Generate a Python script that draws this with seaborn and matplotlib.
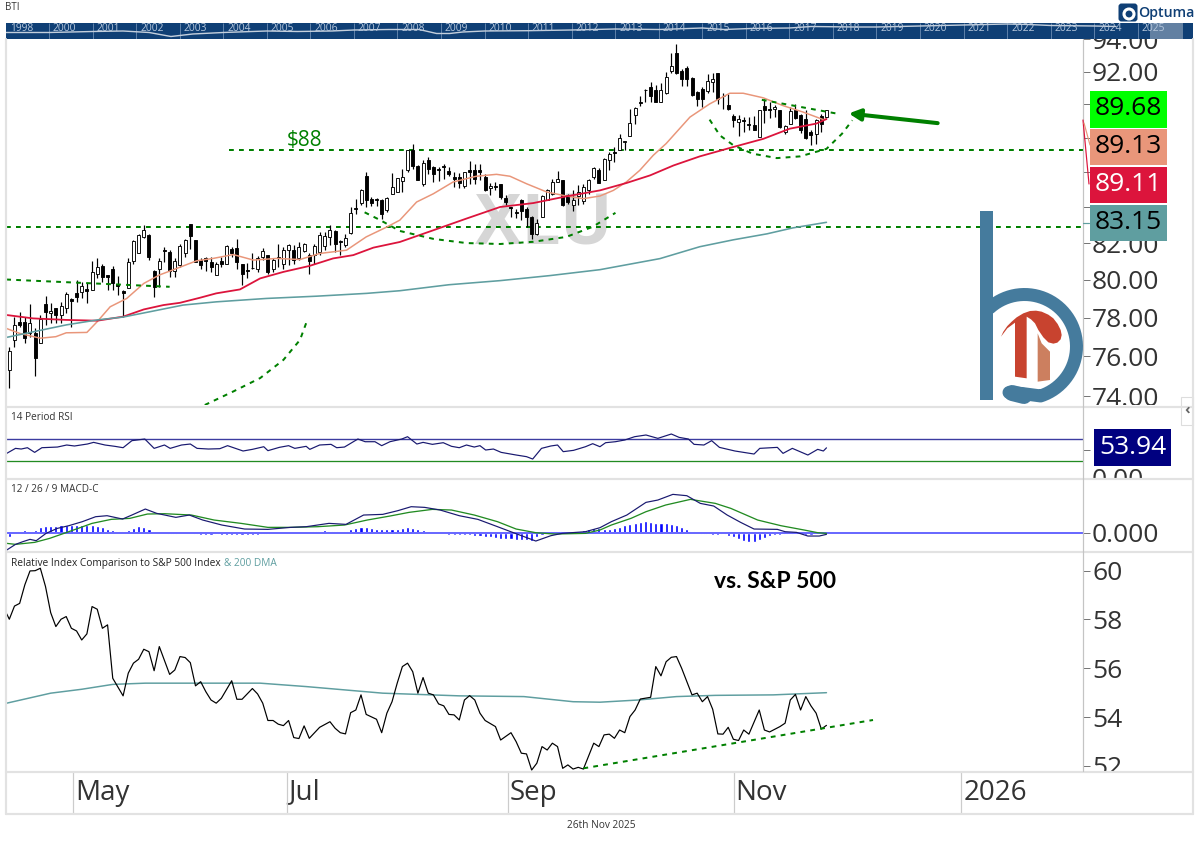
import numpy as np
import matplotlib
matplotlib.use("Agg")
import matplotlib.pyplot as plt
from matplotlib.patches import Rectangle, Polygon, FancyBboxPatch, Circle
from matplotlib.ticker import FixedLocator, NullLocator, FuncFormatter
from matplotlib.transforms import Bbox, ScaledTranslation
import seaborn as sns

# ---------- price candles ----------
price_open = [75.31,76.84,77.79,77.79,77.18,77.18,76.67,78.71,78.22,78.48,
78.14,78.48,78.96,79.31,79.36,79.49,79.45,80.31,80.74,80.24,
80.56,79.76,79.42,79.54,81.03,81.43,82.34,82.43,80.49,80.58,
81.61,81.52,80.49,80.79,81.46,83.08,82.16,81.10,81.21,80.97,
80.26,81.03,80.88,81.70,81.75,80.84,80.52,80.66,80.56,81.25,
81.34,80.56,81.25,80.88,81.61,81.61,81.16,81.57,81.37,81.34,
81.52,81.83,82.34,82.67,82.12,81.88,82.56,83.97,84.23,85.77,
84.44,84.44,84.42,83.86,84.76,84.86,
85.49,86.13,87.30,86.38,85.29,86.72,86.32,86.19,86.38,86.05,
85.72,85.72,85.18,86.13,86.13,86.10,85.72,85.10,85.18,85.29,
84.53,84.01,83.73,84.38,83.92,83.45,82.49,83.45,84.42,84.76,
85.43,85.52,84.67,84.10,84.61,84.34,84.95,85.72,86.10,85.52,
86.72,87.16,87.30,87.74,88.12,89.33,90.14,90.88,91.08,90.84,
90.16,90.67,92.06,93.14,92.06,92.20,91.61,90.74,90.94,90.78,
91.35,91.90,90.53,89.98,89.27,88.96,89.08,88.84,88.74,88.04,
89.92,89.73,89.73,89.63,88.34,88.84,89.63,89.33,89.13,88.34,
88.22,89.27,89.23]
price_high = [76.50,78.05,78.31,78.05,78.71,77.44,78.14,79.13,78.75,78.48,
78.83,79.36,79.01,80.02,79.90,79.81,81.03,81.16,80.88,80.26,
80.74,80.20,79.45,81.16,82.16,82.52,82.99,82.52,80.52,81.16,
81.79,81.61,81.16,81.97,82.25,83.08,82.19,81.21,81.25,81.25,
80.97,81.25,81.88,81.79,82.21,80.88,80.92,81.43,81.28,81.75,
81.34,81.16,81.94,81.79,81.97,81.88,82.06,82.01,81.43,81.97,
82.61,82.61,82.99,82.71,82.16,82.52,84.01,84.47,85.04,86.00,
84.57,84.53,84.47,84.57,85.94,85.67,
86.19,87.30,87.66,86.42,86.68,86.87,86.38,86.28,86.44,86.32,
86.00,85.95,86.00,86.64,86.48,86.44,85.91,85.37,85.43,85.33,
84.67,84.01,83.92,84.48,84.01,83.49,83.36,84.67,85.05,85.62,
86.05,85.52,84.76,84.95,85.24,85.29,85.62,86.32,86.25,86.83,
87.16,87.45,88.20,87.84,89.70,89.83,90.53,90.94,91.35,91.20,
91.29,91.96,93.14,93.72,92.16,92.37,91.65,90.80,91.04,91.82,
91.90,91.90,90.67,90.63,89.43,89.33,89.23,89.23,89.27,89.67,
90.33,90.12,89.98,89.67,88.74,89.83,90.02,89.39,89.67,88.44,
89.13,89.39,89.67]
price_low = [74.39,76.50,77.53,76.67,77.01,74.98,76.67,77.62,77.70,77.70,
77.70,78.22,77.53,78.83,79.01,78.75,79.45,80.08,79.90,79.45,
79.45,79.19,78.05,79.54,80.88,81.43,82.30,81.07,79.10,79.63,
80.97,80.17,80.17,80.70,81.25,81.70,80.97,80.61,80.49,80.43,
80.26,80.70,80.84,81.25,80.56,79.72,80.08,80.61,80.43,81.07,
80.34,80.43,80.70,80.61,80.79,80.88,81.10,81.52,80.34,80.88,
81.34,81.61,81.88,81.52,81.34,81.79,82.52,83.64,84.10,84.01,
84.05,84.05,83.36,83.73,84.72,84.86,
84.86,86.00,86.19,85.52,85.18,85.91,85.43,85.49,85.62,85.76,
85.14,85.10,85.10,85.33,85.29,85.52,84.91,84.67,84.99,84.48,
84.10,83.45,83.38,83.27,82.90,82.24,82.43,83.45,84.38,84.67,
85.43,84.05,84.20,83.79,84.10,84.20,84.76,85.62,85.37,85.52,
86.13,86.58,87.26,87.30,88.08,88.80,89.92,90.12,90.12,90.12,
90.16,90.63,91.90,91.86,91.14,91.14,90.53,89.92,89.83,90.67,
90.74,90.02,89.73,89.67,88.64,88.08,88.34,88.44,88.44,88.04,
88.88,89.19,89.23,88.60,88.20,88.80,89.13,88.28,87.94,87.56,
87.66,88.34,89.19]
price_close = [76.25,77.62,77.62,76.93,77.70,75.90,77.91,78.31,78.36,78.14,
78.61,79.23,78.89,79.10,79.67,79.42,80.43,80.70,80.17,80.17,
79.81,79.67,79.28,80.94,82.12,82.47,82.71,81.25,79.63,81.01,
81.57,80.49,81.03,81.83,82.16,82.37,80.97,80.79,81.03,80.70,
80.88,80.88,81.83,81.43,80.97,80.31,80.49,80.63,81.21,81.57,
80.43,81.10,81.21,81.61,81.88,81.10,81.79,81.94,81.03,81.83,
82.47,82.37,82.75,81.97,82.08,82.30,83.67,83.92,84.98,84.38,
84.25,84.38,83.64,84.53,85.14,85.64,
85.72,87.26,86.38,85.56,86.52,86.19,85.91,86.13,86.32,85.87,
85.62,85.37,86.00,86.00,85.62,86.00,84.99,85.22,85.14,84.57,
84.29,83.97,83.67,83.79,83.42,82.52,83.12,84.61,84.95,85.43,
85.62,84.10,84.29,84.38,84.86,85.14,85.56,86.21,85.37,86.77,
87.02,87.10,88.00,87.84,88.88,89.79,90.10,90.84,90.53,90.16,
90.88,91.65,92.37,91.90,91.55,91.55,90.59,90.33,90.33,91.39,
91.55,90.33,90.49,89.71,89.04,89.12,89.00,88.78,88.48,89.63,
89.63,89.63,89.86,88.64,88.70,89.57,89.19,88.48,88.00,88.14,
89.08,88.84,89.63]

# ---------- moving averages ----------
salmon_x = [-0.6,2,6,9,11,15,17,19.5,22.7,26,29,32.3,36.2,39.4,43.3,47.2,51.7,56.2,60,65.2,69,73,75.5,
            78.75,82,85.8,90.3,94.2,96.8,100,103.9,107.7,111,114.2,116.8,119.3,121.9,124.5,127,131.6,135.4,139.3,141.9,145.8,149.6,153.5,157.4,158]
salmon_y = [77.44,77.18,76.93,77.01,77.21,77.23,77.79,78.57,79.01,79.81,80.26,80.61,81.03,81.16,81.37,81.07,81.16,81.10,81.43,81.61,82.34,82.89,83.27,
            84.29,84.76,85.43,85.76,85.87,85.76,85.33,84.86,84.63,84.48,84.63,84.95,85.43,86.10,86.97,87.66,89.23,90.02,90.67,90.67,90.39,89.92,89.53,89.08,89.13]
crimson_x = [-0.6,4.6,11,17,22,26,29.8,33,36.9,40,44.6,48.5,53,58,62.6,66.5,70.4,75.5,
             82,88.4,94.9,101.3,107.7,114.2,119.3,123.9,128.4,133.5,140,145.8,150.9,156,158]
crimson_y = [78.14,77.96,77.88,77.84,78.05,78.43,78.66,78.78,79.05,79.28,79.49,80.08,80.43,80.75,81.16,81.34,81.75,82.06,
             82.71,83.36,84.01,84.23,84.61,84.95,85.37,85.81,86.38,86.91,87.46,87.94,88.54,88.84,89.11]
teal_x = [-0.6,4.6,11,17,22,27.2,33.6,40,49.7,59.4,69.1,75.5,85,94.9,104.5,114.2,125.8,133.5,140,146.5,151.5,158]
teal_y = [76.97,77.26,77.62,77.88,78.03,78.31,78.66,78.83,79.01,79.13,79.28,79.42,79.74,79.96,80.23,80.55,81.15,81.80,82.18,82.51,82.84,83.15]

# ---------- hand-drawn dotted annotations ----------
level_88 = 87.28
level_83 = 82.87
drift_x, drift_y = [-0.6, 31], [80.02, 79.63]
arc_a_x = [37.8,43.3,48.5,53,56.2,57.5]
arc_a_y = [73.56,74.23,74.90,75.82,76.84,77.79]
cup_a_x = [68.7,71.6,75.5,82,88.4,94.9,101.3,107.7,112.8,117.2]
cup_a_y = [83.71,83.29,82.67,82.23,82.0,81.95,82.07,82.34,82.9,83.68]
cup_b_x = [135.4,137.4,140,143.7,148.4,152.9,158,161,163]
cup_b_y = [89.08,88.14,87.56,87.07,86.81,86.91,87.35,88.24,89.04]
wedge_x, wedge_y = [145.5, 160.2], [90.27, 89.43]

# ---------- RSI ----------
rsi_x = [-0.5,1.2,2.3,3.5,4.9,6.3,9.3,11.1,12.6,15.1,16.3,18.5,20.4,22,23.7,26.2,28,30,31.1,33.3,35,36.3,38.5,40.7,42.2,45.2,47,49.2,50,52.2,54,55.2,57.4,58.1,60,62.2,63.3,64.8,67.4,68.8,70.7,72,73.6,75.9,77,78.8,80,81.8,83.9,85.5,87,88.4,89.9,91,92.1,93.6,95.1,98,100,101.2,102.9,104.7,106,107.1,109.1,111.4,112.8,114.2,
         115.3,117.2,119,120.9,123.1,125.4,128,129.5,131.3,132.4,134.3,135.8,137.3,140.3,144,145.1,148.5,149.6,151.4,154.4,156.3,157.4,158]
rsi_y = [43.9,53.0,51.8,54.2,45.7,54.2,55.4,59.1,57.3,60.9,63.9,59.1,56.7,54.2,67.0,70.0,53.0,59.1,53.0,59.1,60.9,53.0,51.8,52.4,57.9,48.2,51.2,56.0,48.8,54.8,57.9,53.0,56.7,51.2,59.1,60.3,54.2,55.4,70.0,65.1,65.1,57.9,65.1,70.0,74.2,60.9,63.9,60.3,63.3,56.7,54.2,59.1,55.4,57.9,50.0,51.8,45.7,40.9,37.9,33.6,53.0,57.3,59.1,47.0,49.4,56.0,61.5,56.0,
         63.3,65.1,68.2,74.2,77.3,71.2,79.1,73.0,70.0,60.3,59.1,67.0,54.8,48.2,42.7,53.0,54.8,43.9,53.0,40.9,51.2,48.2,53.94]
rsi_upper, rsi_lower = 70, 30

# ---------- MACD ----------
macd_x = [-0.5,1.2,2.6,4,5.2,7.1,9.3,11.5,14.1,16.7,18.9,21.9,23.7,26.3,28.5,32.2,34.8,37.4,41.1,45.5,50,54.4,57.4,61.8,65.1,68.5,72.2,75.1,77.7,80.3,83.3,87,90.6,94.4,97.3,101.8,104.7,106.9,111.4,114.2,
          116.4,119.4,123.1,125.4,128.3,131,133.6,136.2,138.8,141.4,144,148.5,150,152.2,154.4,156.6,158]
macd_y = [-.52,-.35,-.27,-.20,-.24,-.02,.13,.21,.33,.48,.51,.41,.53,.71,.58,.46,.53,.38,.23,.11,.10,.16,.18,.28,.25,.53,.55,.66,.78,.76,.68,.51,.40,.18,.01,-.25,-.09,-.02,.03,.15,
          .33,.53,.91,.98,1.15,1.11,.88,.80,.53,.31,.11,.10,.03,.01,-.10,-.10,-.05]
signal_x = [-0.5,1.2,4.9,7.8,11.5,16,19.7,23.3,26.7,30,35.2,39.6,44.8,50,54.4,59.6,64.8,69.2,73.6,77.3,81.8,85.5,89.9,94.4,98,101.8,105.4,111.4,114.2,
            116.4,120.2,123.1,126.9,131.7,136.5,139.5,144.7,149.2,153.7,156.3,158]
signal_y = [-.32,-.35,-.29,-.17,.03,.28,.40,.43,.56,.57,.53,.38,.28,.16,.16,.18,.23,.38,.50,.61,.70,.68,.53,.33,.11,0,-.04,-.02,.08,
            .23,.43,.63,.83,1.0,.88,.73,.38,.21,.08,0,-.02]
macd_hist = [-.12,0,.05,.08,.06,.08,.16,.20,.20,.20,.22,.22,.22,.22,.24,.24,.22,.20,.16,.12,.08,.04,.04,.08,.14,.20,.18,.12,.03,0,
             -.02,-.03,-.03,0,.02,0,-.04,-.06,-.06,-.06,-.05,-.06,-.06,-.08,-.08,-.07,-.07,-.08,-.06,-.04,-.03,0,0,.02,0,.02,.02,0,.03,.05,
             .06,.07,.05,.04,.03,.05,.12,.14,.17,.17,.15,.12,.11,.11,.12,.12,.15,.17,.14,.12,.07,.03,.01,0,0,-.06,-.08,-.08,-.08,-.08,
             -.10,-.10,-.12,-.14,-.16,-.18,-.20,-.20,-.22,-.22,-.23,-.25,-.14,-.06,.03,.06,.04,.04,.03,.03,.06,.08,.12,.13,.14,
             .10,.12,.14,.18,.22,.26,.28,.32,.34,.32,.30,.28,.28,.26,.22,.16,.10,.05,0,-.03,-.04,-.06,-.06,-.05,-.10,-.14,-.18,-.24,-.28,-.28,
             -.22,-.16,-.10,-.07,-.06,-.03,-.03,-.02,-.05,-.08,-.08,-.04,-.03,-.01]

# ---------- relative strength vs S&P 500 ----------
rel_x = [-0.5,0,1,2,3,4,5,6,7,8,9,10,11,12,13,14,15,16,17,18,19,20,22,23,24,25,26,27,28,29,31,32,33,34,35,36,37,38,39,40,41,43,44,45,47,48,49,50,51,52,53,54,55,56,57,58,60,62,63,64,65,66,67,68,69,71,72,73,74,75,76,77,78,79,80,81,82,83,84,85,86,87,88,89,90,91,92,94,95,97,98,99,100,101,102,103,104,105,106,107,108,109,110,111,113,
         114,115,116,117,118,119,120,121,122,124,125,126,127,128,129,130,132,133,134,135,136,137,138,139,140,141,142,143,145,146,147,149,150,151,152,153,154,155,156,157,158]
rel_y = [58.23,58.01,58.55,58.66,59.42,59.99,60.0,60.10,59.35,58.28,57.71,58.01,58.12,57.64,57.53,57.16,57.41,58.53,58.42,57.64,57.78,55.59,54.87,55.80,56.21,56.37,56.78,56.68,55.90,56.89,55.75,55.93,56.48,56.44,56.23,55.28,55.45,55.04,54.70,54.57,54.77,55.49,54.73,54.73,55.17,54.95,54.57,53.86,53.86,53.71,53.65,53.86,53.16,53.12,53.64,53.13,53.58,53.81,53.54,53.36,53.31,54.18,54.29,54.91,54.11,53.91,53.36,54.16,54.63,55.39,56.07,56.21,55.86,54.98,55.62,54.98,54.91,54.54,54.46,54.11,54.09,53.88,54.70,54.88,54.70,54.16,53.86,53.61,53.06,53.36,52.99,52.52,52.49,51.83,52.11,52.79,52.65,52.93,52.79,51.90,52.04,51.87,51.94,51.87,52.93,
         52.79,53.27,53.30,53.13,53.47,53.36,54.02,54.29,54.74,54.81,56.07,55.69,56.27,56.45,56.48,56.0,54.91,54.98,54.63,54.84,54.32,53.31,53.30,53.58,53.09,53.04,53.47,53.30,54.29,53.47,53.39,53.61,53.75,54.70,54.93,54.29,54.84,54.46,54.16,53.51,53.66]
rel_ma_x = [-0.5,8,14,20,26.3,36.7,48.5,57.4,72.2,87,99.5,109,114.2,121.6,129,136.5,147.7,158]
rel_ma_y = [54.57,54.98,55.14,55.34,55.39,55.39,55.39,55.25,54.98,54.87,54.84,54.63,54.61,54.70,54.84,54.89,54.91,55.0]
rel_trend_x, rel_trend_y = [111, 167], [51.9, 53.88]

# ---------- axis labels ----------
price_ticks = [74,76,78,80,82,84,86,88,90,92,94]
price_hidden = [84,86,88,90]
rsi_ticks = [0, 50]
rsi_hidden = [50]
rel_ticks = [52,54,56,58,60]
month_bars = [12.3, 53.6, 96.4, 140, 184]
month_labels = ["May", "Jul", "Sep", "Nov", "2026"]
nav_years = list(range(2000, 2026))
nav_line_x = [1999,2000,2001,2001.7,2002.3,2002.8,2003.3,2004,2005,2005.7,2006.5,2007,2007.8,2008.5,2008.9,2009.2,2009.5,2010,2011,2012,2012.5,2013,2014,2015,2015.5,2016.1,2017,2017.5,2018.5,2019,2020,2021,2022,2022.5,2023,2024,2024.5]
nav_line_y = [6.5,6.5,7.5,8,6.5,2.5,5,6.5,8,7.5,8,9,9.5,9.5,5.5,5.5,7,8,8.3,9,9.5,10,9.5,11,9.5,10.5,11,12.5,12,12,13,14,15,14.5,13.5,13,12.5]
last_labels = [("89.68","#00ff00","black"),("89.13","#E9967A","black"),("89.11","#DC143C","white"),("83.15","#5F9EA0","black")]

# ---------- styling ----------
sns.set_style("white")
plt.rcParams['font.family'] = ['Open Sans', 'DejaVu Sans']
W, H = 1199, 844
fig = plt.figure(figsize=(W/100, H/100), dpi=100)
PX = 0.72
GREEN, NAVY = "#008000", "#191970"
TXT = "#333333"

def pane(x0, y0, x1, y1):
    ax = fig.add_axes([x0/W, 1-y1/H, (x1-x0)/W, (y1-y0)/H])
    for s in ax.spines.values():
        s.set_visible(False)
    ax.patch.set_alpha(0)
    return ax

def line(ax, x, y, color, lw, **kw):
    sns.lineplot(x=x, y=y, ax=ax, color=color, lw=lw*PX, sort=False, estimator=None,
                 errorbar=None, legend=False, **kw)

def dots(ax, x, y, lw=2.0):
    ax.plot(x, y, color=GREEN, lw=lw*PX, ls=(0, (2.4, 2.6)), zorder=6)

def right_ticks(ax, ticks, decimals, y0, y1, x_lim, hidden=()):
    ax.yaxis.tick_right()
    ax.yaxis.set_major_locator(FixedLocator(ticks))
    ax.yaxis.set_minor_locator(NullLocator())
    ax.yaxis.set_major_formatter(FuncFormatter(
        lambda v, _p: "" if round(v) in hidden else f"{v:.{decimals}f}"))
    ax.tick_params(axis='y', which='major', right=True, left=False, length=5, width=PX, color="#777777",
                   pad=1.5, labelsize=19, labelcolor=TXT)
    box = Bbox([[6, H-y1], [1193, H-y0]])
    for t in ax.yaxis.get_major_ticks():
        t.label2.set_clip_box(box)
        t.label2.set_clip_on(True)
    ax.set_xlim(*x_lim)
    ax.set_xlabel(""); ax.set_ylabel("")
    ax.set_xticks([])

XLIM = (-0.64, 207.6)
bars = np.arange(len(price_open))
MAIN_Y = (73.56, 94.03)

# ---------- main pane ----------
ax = pane(6, 39, 1083, 405)
ax.set_yscale("log")
ax.set_ylim(*MAIN_Y)
ax.text(103.4, 82.9, "XLU", fontsize=50, fontweight="bold", color="#d6d6d6", ha="center", va="center", zorder=0)
ax.hlines([level_88], 42.5, XLIM[1], color=GREEN, lw=2*PX, ls=(0, (2.4, 2.6)), zorder=2)
ax.hlines([level_83], XLIM[0], XLIM[1], color=GREEN, lw=2*PX, ls=(0, (2.4, 2.6)), zorder=2)
ax.vlines(bars, price_low, price_high, color="black", lw=1.2*PX, zorder=3)
o, c = np.array(price_open), np.array(price_close)
up = c >= o
ax.bar(bars, np.abs(c-o), bottom=np.minimum(o, c), width=0.58,
       color=np.where(up, "white", "black").tolist(), edgecolor="black", lw=0.9*PX, zorder=4)
line(ax, salmon_x, salmon_y, "#E9967A", 1.5, zorder=5)
line(ax, crimson_x, crimson_y, "#DC143C", 1.8, zorder=5)
line(ax, teal_x, teal_y, "#5F9EA0", 1.6, zorder=5)
dots(ax, drift_x, drift_y)
dots(ax, arc_a_x, arc_a_y)
dots(ax, cup_a_x, cup_a_y)
dots(ax, cup_b_x, cup_b_y)
dots(ax, wedge_x, wedge_y)
ax.text(57, 87.85, "$88", color=GREEN, fontsize=15, ha="center", va="center")
ax.annotate("", xy=(162.3, 89.45), xytext=(179.5, 88.87), zorder=7,
            arrowprops=dict(arrowstyle="-|>", color=GREEN, lw=2.9, mutation_scale=17, shrinkA=0, shrinkB=0))
right_ticks(ax, price_ticks, 2, 39, 405, XLIM, price_hidden)
ax.set_ylim(*MAIN_Y)

# ---------- RSI pane ----------
ax_r = pane(6, 408, 1083, 478)
ax_r.set_ylim(-0.9, 126.4)
ax_r.hlines([rsi_upper], *XLIM, color="#3c3ca0", lw=1.4*PX)
ax_r.hlines([rsi_lower], *XLIM, color="#228B22", lw=1.3*PX)
line(ax_r, rsi_x, rsi_y, NAVY, 1.2)
right_ticks(ax_r, rsi_ticks, 2, 408, 478, XLIM, rsi_hidden)
ax_r.set_ylim(-0.9, 126.4)

# ---------- MACD pane ----------
ax_m = pane(6, 480, 1083, 551)
ax_m.set_ylim(-0.549, 1.581)
ax_m.bar(bars, macd_hist, width=0.6, color="#0000ff", zorder=2)
ax_m.hlines([0], *XLIM, color="#6a6aff", lw=2*PX, zorder=3)
line(ax_m, signal_x, signal_y, "#228B22", 1.3, zorder=4)
line(ax_m, macd_x, macd_y, NAVY, 1.2, zorder=5)
right_ticks(ax_m, [0], 3, 480, 551, XLIM)
ax_m.set_ylim(-0.549, 1.581)

# ---------- relative pane ----------
ax_s = pane(6, 553, 1083, 771)
ax_s.set_ylim(51.79, 60.725)
line(ax_s, rel_ma_x, rel_ma_y, "#5F9EA0", 1.5, zorder=3)
line(ax_s, rel_x, rel_y, "black", 1.2, zorder=4)
dots(ax_s, rel_trend_x, rel_trend_y)
ax_s.text(148, 59.54, "vs. S&P 500", fontsize=16.5, fontweight="bold", family="Lato", color="black", ha="center", va="center")
right_ticks(ax_s, rel_ticks, 0, 553, 771, XLIM)
ax_s.set_ylim(51.79, 60.725)

# ---------- date pane ----------
ax_d = pane(6, 772, 1193, 814)
ax_d.set_xlim(XLIM[0], XLIM[0] + (1193-6)/5.173)
ax_d.set_ylim(0, 1)
ax_d.set_yticks([])
ax_d.set_xticks(month_bars)
ax_d.set_xticklabels(month_labels, ha="left")
ax_d.tick_params(axis='x', length=0, pad=-25.5, labelsize=20, labelcolor=TXT)
ax_d.vlines(month_bars, 0, 1, color="#cccccc", lw=1.2*PX)
shift = ScaledTranslation(2/100, 0, fig.dpi_scale_trans)
for t in ax_d.get_xticklabels():
    t.set_transform(t.get_transform() + shift)

# ---------- navigator strip ----------
ax_n = pane(6, 23, 1193, 39)
ax_n.patch.set_alpha(1)
ax_n.set_facecolor("#0f3f75")
nav_x0 = 2000 + (6-49)/43.55
nav_x1 = 2000 + (1193-49)/43.55
ax_n.set_xlim(nav_x0, nav_x1)
ax_n.set_ylim(0, 16)
ax_n.set_xticks([]); ax_n.set_yticks([])
ax_n.vlines(nav_years, 0, 16, color="#5c7fa8", lw=1*PX)
line(ax_n, nav_line_x, nav_line_y, "#c4cfdc", 1.4)
for yr in nav_years:
    ax_n.text(yr+0.09, 10.3, str(yr), color="#b6c7dc", fontsize=7.4, ha="left", va="center")
ax_n.text(nav_x0+0.09, 10.3, "1998", color="#b6c7dc", fontsize=7.4, ha="left", va="center")
ax_n.add_patch(Rectangle((2025.28, 0), 0.76, 16, color="#c8d0da", alpha=0.45, lw=0))

# ---------- overlay (chrome, labels, logos) ----------
ov = fig.add_axes([0, 0, 1, 1], zorder=20)
ov.set_xlim(0, W); ov.set_ylim(H, 0); ov.axis("off"); ov.patch.set_alpha(0)
CH = "#e2e2e2"
for y in [406.5, 479, 552, 771.5, 814]:
    ov.plot([6, 1193], [y, y], color=CH, lw=2.2*PX)
ov.plot([6, 6], [39, 814], color=CH, lw=2.2*PX)
ov.plot([1193, 1193], [39, 814], color=CH, lw=2.2*PX)
ov.plot([1083, 1083], [39, 771], color="#c4c4c4", lw=1.2*PX)

# connectors to last-value boxes
ov.plot([1083, 1089], [120, 184], color="#DC143C", lw=1.2*PX)
ov.plot([1084, 1090], [123, 145], color="#E9967A", lw=1.2*PX)
ov.plot([1083, 1089], [223, 223], color="#5F9EA0", lw=1.2*PX)

for (lab, bg, fg), (y0, y1) in zip(last_labels, [(91,127.5),(129,165),(167,202.5),(205,240.5)]):
    ov.add_patch(Rectangle((1089.5, y0), 77.5, y1-y0, color=bg, lw=0, zorder=5))
    ov.text(1128.3, (y0+y1)/2-0.3, lab, color=fg, fontsize=19, ha="center", va="center", zorder=6)
ov.add_patch(Rectangle((1094, 429), 77, 37, color="#000080", lw=0, zorder=5))
ov.text(1132.5, 447, "53.94", color="white", fontsize=19, ha="center", va="center", zorder=6)

# small captions
ov.text(5, 8, "BTI", fontsize=7, color=TXT, va="center")
ov.text(11, 417, "14 Period RSI", fontsize=7.2, color=TXT, va="center")
ov.text(11, 490, "12 / 26 / 9 MACD-C", fontsize=7.2, color=TXT, va="center")
ov.text(11, 563.5, "Relative Index Comparison to S&P 500 Index", fontsize=7.3, color="#222222", va="center")
ov.text(224, 563.5, "& 200 DMA", fontsize=7.3, color="#5F9EA0", va="center")
ov.text(601, 826, "26th Nov 2025", fontsize=7.3, color=TXT, ha="center", va="center")

# scroll chevron
ov.add_patch(Rectangle((1181, 397), 12, 28, facecolor="white", edgecolor="#dddddd", lw=0.8))
ov.text(1187, 410, "‹", fontsize=11, fontweight="bold", color="#666666", ha="center", va="center")

# Optuma badge
ov.add_patch(FancyBboxPatch((1120, 5), 16, 15, boxstyle="round,pad=1.5,rounding_size=3", facecolor="#0f3f75", edgecolor="none"))
ov.add_patch(Circle((1129, 14), 5, facecolor="none", edgecolor="white", lw=2.2))
ov.text(1138, 13, "Optuma", fontsize=10.2, color="#0f3f75", ha="left", va="center", fontweight="semibold")

# corner logo
LB, LR, LO = "#457b9d", "#c8432f", "#cc7f5f"
ov.add_patch(Rectangle((980, 211), 12.5, 189, color=LB, lw=0))
a = np.radians(np.linspace(132, -72, 200))
cx, cy, r = 1024.5, 346.5, 52
rx = np.r_[cx + r*np.cos(a), 1022, 1009]
ry = np.r_[cy - r*np.sin(a), 393.5, 392.5]
ov.plot(rx, ry, color=LB, lw=13*PX, solid_capstyle="round", solid_joinstyle="round")
ov.plot([1012, 1024], [393, 396], color=LB, lw=16*PX, solid_capstyle="round")
def zp(pts):
    return [(970+p/3, 280+q/3) for p, q in pts]
ov.add_patch(Polygon(zp([(93,170),(100,155),(112,138),(125,125),(140,112),(160,100),(180,93),(198,92),(215,95),(235,104),(250,115),(263,132),(272,150),(275,165),(272,178),(262,188),(250,191),(235,187),(220,172),(205,150),(195,130),(183,118),(170,110),(170,295),(135,290),(135,128),(112,145)]), color=LR, lw=0))
ov.add_patch(Polygon(zp([(203,160),(215,190),(240,215),(240,300),(203,305)]), color=LO, lw=0))

fig.savefig("out.png", dpi=100)
